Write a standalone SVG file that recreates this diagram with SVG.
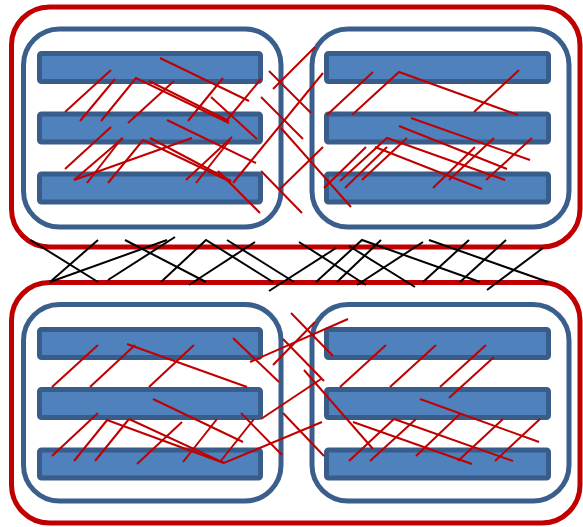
<svg xmlns="http://www.w3.org/2000/svg" width="583" height="527" viewBox="0 0 583 527">
  <style>
    .frame { fill: none; stroke: #c00000; stroke-width: 5; }
    .panel { fill: #ffffff; stroke: #3b5f8c; stroke-width: 5; }
    .bar { fill: #4f81bd; stroke: #385d8a; stroke-width: 5; }
    .red { fill: none; stroke: #c00000; stroke-width: 2; stroke-linejoin: miter; }
    .blk { fill: none; stroke: #000000; stroke-width: 2; }
  </style>
  <rect width="583" height="527" fill="#ffffff"/>

  <!-- upper frame -->
  <g id="frame-top">
    <rect class="frame" x="11.5" y="7" width="568.5" height="240" rx="38"/>
  </g>
  <g id="panel-top-left">
    <rect class="panel" x="23.5" y="29" width="257.5" height="198" rx="36"/>
    <rect class="bar" x="39.5" y="53.5" width="221" height="28" rx="2"/>
    <rect class="bar" x="39.5" y="114" width="221" height="28" rx="2"/>
    <rect class="bar" x="39.5" y="174" width="221" height="28" rx="2"/>
  </g>
  <g id="panel-top-right">
    <rect class="panel" x="312" y="29" width="257" height="198" rx="36"/>
    <rect class="bar" x="326.5" y="53.5" width="222" height="28" rx="2"/>
    <rect class="bar" x="326.5" y="114" width="222" height="28" rx="2"/>
    <rect class="bar" x="326.5" y="174" width="222" height="28" rx="2"/>
  </g>

  <!-- lower frame -->
  <g id="frame-bottom">
    <rect class="frame" x="11.5" y="282.5" width="568.5" height="240.5" rx="38"/>
  </g>
  <g id="panel-bottom-left">
    <rect class="panel" x="23.5" y="304.5" width="257.5" height="196.5" rx="36"/>
    <rect class="bar" x="39.5" y="329.5" width="221" height="28" rx="2"/>
    <rect class="bar" x="39.5" y="389.5" width="221" height="28" rx="2"/>
    <rect class="bar" x="39.5" y="450" width="221" height="28" rx="2"/>
  </g>
  <g id="panel-bottom-right">
    <rect class="panel" x="312" y="304.5" width="257" height="196.5" rx="36"/>
    <rect class="bar" x="326.5" y="329.5" width="222" height="28" rx="2"/>
    <rect class="bar" x="326.5" y="389.5" width="222" height="28" rx="2"/>
    <rect class="bar" x="326.5" y="450" width="222" height="28" rx="2"/>
  </g>

  <g id="connectors">
    <!-- red strokes, upper frame -->
    <g class="red">
      <path d="M65 112L111 70"/>
      <path d="M80 121L115 79"/>
      <path d="M101 121L136 78L229 123"/>
      <path d="M149 81L229 121"/>
      <path d="M128 123L174 81"/>
      <path d="M160 58L249 101"/>
      <path d="M188 121L223 78"/>
      <path d="M227 120L261 79"/>
      <path d="M211 97L257 139"/>
      <path d="M65 169L111 127"/>
      <path d="M74 180L123 138"/>
      <path d="M87 183L122 138"/>
      <path d="M108 183L143 140L231 182"/>
      <path d="M74 180L192 138"/>
      <path d="M150 138L231 181"/>
      <path d="M167 120L256 163"/>
      <path d="M186 180L232 137"/>
      <path d="M196 183L230 140"/>
      <path d="M218 171L260 213"/>
      <path d="M233 183L323 73"/>
      <path d="M269 71L311 113"/>
      <path d="M273 89L315 47"/>
      <path d="M261 97L303 139"/>
      <path d="M281 128L351 207"/>
      <path d="M280 189L323 147"/>
      <path d="M261 171L302 213"/>
      <path d="M327 115L373 72"/>
      <path d="M352 115L399 72L518 115"/>
      <path d="M474 112L519 70"/>
      <path d="M411 118L530 160"/>
      <path d="M399 126L507 169"/>
      <path d="M324 188L366 147"/>
      <path d="M340 181L387 138L505 180"/>
      <path d="M345 188L387 147"/>
      <path d="M362 180L407 138"/>
      <path d="M375 147L482 189"/>
      <path d="M433 188L475 147"/>
      <path d="M449 180L494 138"/>
      <path d="M486 180L532 138"/>
    </g>
    <!-- red strokes, lower frame -->
    <g class="red">
      <path d="M52 387L98 345"/>
      <path d="M90 387L135 345"/>
      <path d="M127 344L247 387"/>
      <path d="M149 387L194 345"/>
      <path d="M153 399L243 442"/>
      <path d="M52 456L98 413"/>
      <path d="M74 461L108 419"/>
      <path d="M95 461L129 419"/>
      <path d="M107 420L224 463"/>
      <path d="M129 419L224 463L322 422"/>
      <path d="M137 464L182 422"/>
      <path d="M183 462L217 419"/>
      <path d="M220 462L254 419"/>
      <path d="M241 413L282 455"/>
      <path d="M233 338L279 382"/>
      <path d="M250 362L348 319"/>
      <path d="M273 365L315 322"/>
      <path d="M291 313L333 356"/>
      <path d="M283 339L324 381"/>
      <path d="M261 419L321 379"/>
      <path d="M304 370L373 449"/>
      <path d="M283 413L324 456"/>
      <path d="M340 387L386 345"/>
      <path d="M390 387L436 345"/>
      <path d="M440 387L486 345"/>
      <path d="M449 398L494 357"/>
      <path d="M420 399L539 442"/>
      <path d="M349 461L394 419L513 461"/>
      <path d="M370 461L416 419"/>
      <path d="M353 422L472 464"/>
      <path d="M416 456L460 414"/>
      <path d="M458 461L503 419"/>
      <path d="M495 461L540 419"/>
    </g>
    <!-- black strokes between the frames -->
    <g class="blk">
      <path d="M30.5 240L98 282"/>
      <path d="M50 282L98 240"/>
      <path d="M50 282L167 240"/>
      <path d="M125 240L206 282"/>
      <path d="M175 237L108 280"/>
      <path d="M161 282L206 240L273 282"/>
      <path d="M227 240L294 282"/>
      <path d="M255 242L189 285"/>
      <path d="M299 242L366 285"/>
      <path d="M336 248L269 291"/>
      <path d="M316 282L362 240L480 282"/>
      <path d="M349 246L415 287"/>
      <path d="M381 240L337 282"/>
      <path d="M423 242L357 285"/>
      <path d="M429 240L548 282"/>
      <path d="M469 240L423 282"/>
      <path d="M506 240L460 282"/>
      <path d="M543 248L487 290"/>
    </g>
  </g>
</svg>
